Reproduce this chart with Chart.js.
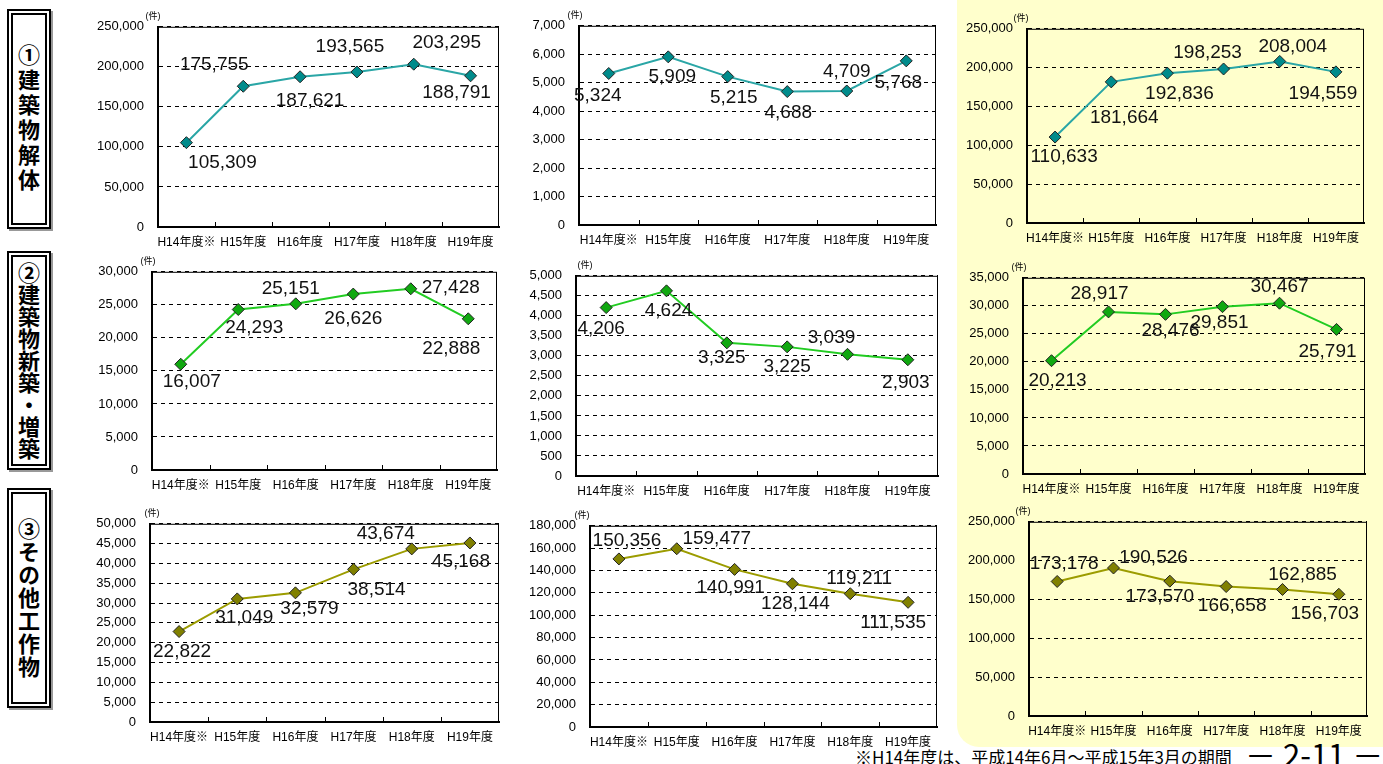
<!DOCTYPE html>
<html lang="ja">
<head>
<meta charset="utf-8">
<title>建築物解体・新築・その他工作物 件数推移</title>
<script src="https://cdn.jsdelivr.net/npm/chart.js@4.4.0/dist/chart.umd.min.js"></script>
<style>
  html, body { margin: 0; padding: 0; background: #fff; }
  body { width: 1383px; height: 764px; position: relative; overflow: hidden;
         font-family: "Liberation Sans", "Noto Sans CJK JP", sans-serif; }
  .panel { position: absolute; left: 957px; top: -30px; width: 460px; height: 777px;
           background: #ffffcc; border-radius: 22px; }
  .rowlabel { position: absolute; left: 7px; width: 32px; border: 6px double #000;
              box-shadow: 2px 2px 0 #999; display: flex; align-items: center; justify-content: center;
              background: #fff; }
  .rowlabel span { writing-mode: vertical-rl; text-orientation: upright; font-weight: bold;
                   font-size: 22px; line-height: 1; white-space: nowrap;
                   font-family: "Noto Sans CJK JP", sans-serif; color: #000; }
  .wrap { position: absolute; }
  .note { position: absolute; left: 855px; top: 744px; font-size: 17px; white-space: nowrap;
          font-family: "Noto Sans CJK JP", sans-serif; }
  .pageno { position: absolute; left: 1245px; top: 731px; font-size: 31px; white-space: nowrap;
            font-family: "Noto Sans CJK JP", sans-serif; }
</style>
</head>
<body>
<div class="panel"></div>
<div class="rowlabel" style="top:9px;height:208px;"><span style="letter-spacing:3px">①建築物解体</span></div>
<div class="rowlabel" style="top:251px;height:207px;"><span style="letter-spacing:0">②建築物新築・増築</span></div>
<div class="rowlabel" style="top:488px;height:208px;"><span style="letter-spacing:1px">③その他工作物</span></div>
<div class="note">※H14年度は、平成14年6月～平成15年3月の期間</div>
<div class="pageno">－ 2-11 －</div>

<script>
// categories
const years = ['H14年度※', 'H15年度', 'H16年度', 'H17年度', 'H18年度', 'H19年度'];

// ① 建築物解体
const demolitionA = [105309, 175755, 187621, 193565, 203295, 188791];
const demolitionB = [5324, 5909, 5215, 4688, 4709, 5768];
const demolitionTotal = [110633, 181664, 192836, 198253, 208004, 194559];

// ② 建築物新築・増築
const newBuildA = [16007, 24293, 25151, 26626, 27428, 22888];
const newBuildB = [4206, 4624, 3325, 3225, 3039, 2903];
const newBuildTotal = [20213, 28917, 28476, 29851, 30467, 25791];

// ③ その他工作物
const otherA = [22822, 31049, 32579, 38514, 43674, 45168];
const otherB = [150356, 159477, 140991, 128144, 119211, 111535];
const otherTotal = [173178, 190526, 173570, 166658, 162885, 156703];

// y axis ranges
const axisMax = [250000, 7000, 250000, 30000, 5000, 35000, 50000, 180000, 250000];
const axisStep = [50000, 1000, 50000, 5000, 500, 5000, 5000, 20000, 50000];

const FONT = '"Liberation Sans", "Noto Sans CJK JP", sans-serif';

const rowColors = [
  { line: '#2aa6a6', point: '#008b8b' },
  { line: '#22cc22', point: '#10a810' },
  { line: '#9c9c00', point: '#808000' }
];

// plot rect [left, top, right, bottom] and label offsets for each panel
const panels = [
  { values: demolitionA, row: 0, plot: [158, 25, 499, 227], unitDx: -5,
    offs: [[36, 20], [-29, -21], [10, 24], [-7, -25], [33, -21], [-14, 17]] },
  { values: demolitionB, row: 0, plot: [579, 24, 936, 225], unitDx: -4,
    offs: [[-11, 22], [4, 20], [6, 21], [1, 21], [0, -19], [-8, 22]] },
  { values: demolitionTotal, row: 0, plot: [1027, 27, 1364, 223], unitDx: -6,
    offs: [[9, 20], [13, 36], [12, 21], [-16, -16], [13, -15], [-13, 22]] },
  { values: newBuildA, row: 1, plot: [152, 270, 497, 470], unitDx: -4,
    offs: [[11, 18], [16, 18], [-5, -15], [0, 25], [40, -1], [-17, 30]] },
  { values: newBuildB, row: 1, plot: [576, 274, 938, 476], unitDx: 9,
    offs: [[-5, 21], [2, 20], [-5, 15], [0, 20], [-16, -17], [-2, 23]] },
  { values: newBuildTotal, row: 1, plot: [1023, 276, 1365, 474], unitDx: -4,
    offs: [[6, 20], [-9, -18], [5, 16], [-3, 16], [0, -16], [-9, 22]] },
  { values: otherA, row: 2, plot: [150, 522, 499, 722], unitDx: 2,
    offs: [[3, 20], [7, 19], [14, 16], [23, 20], [-26, -15], [-9, 19]] },
  { values: otherB, row: 2, plot: [590, 524, 937, 727], unitDx: -8,
    offs: [[8, -18], [40, -10], [-4, 18], [3, 20], [9, -15], [-15, 20]] },
  { values: otherTotal, row: 2, plot: [1029, 520, 1367, 716], unitDx: -6,
    offs: [[7, -18], [40, -10], [-10, 16], [6, 19], [20, -15], [-14, 19]] }
];

// frame, inward category ticks, unit mark and value labels
const framePlugin = {
  id: 'frame',
  beforeDatasetsDraw(chart) {
    const { ctx, chartArea: a, scales: { x } } = chart;
    ctx.save();
    ctx.strokeStyle = '#000';
    ctx.lineWidth = 1;
    ctx.strokeRect(a.left + 0.5, a.top + 0.5, a.width - 1, a.height - 1);
    const n = chart.data.labels.length;
    ctx.beginPath();
    for (let i = 1; i < n; i++) {
      const px = Math.round((x.getPixelForTick(i - 1) + x.getPixelForTick(i)) / 2) + 0.5;
      ctx.moveTo(px, a.bottom);
      ctx.lineTo(px, a.bottom - 5);
    }
    ctx.stroke();
    ctx.restore();
  },
  afterDatasetsDraw(chart, args, opts) {
    const { ctx, chartArea: a } = chart;
    const meta = chart.getDatasetMeta(0);
    const data = chart.data.datasets[0].data;
    ctx.save();
    ctx.fillStyle = '#000';
    ctx.textAlign = 'center';
    ctx.textBaseline = 'middle';
    ctx.font = '9px ' + FONT;
    ctx.fillText('(件)', a.left + opts.unitDx, a.top - 10);
    ctx.font = '19px ' + FONT;
    ctx.fillStyle = '#111';
    meta.data.forEach((pt, i) => {
      const [dx, dy] = opts.offsets[i];
      ctx.fillText(data[i].toLocaleString('en-US'), pt.x + dx, pt.y + dy);
    });
    ctx.restore();
  }
};

function makeChart(p, idx) {
  const [l, t, r, b] = p.plot;
  const padL = 80, padT = 20, padR = 10, padB = 26;
  const W = r - l + padL + padR;
  const H = b - t + padT + padB;
  const wrap = document.createElement('div');
  wrap.className = 'wrap';
  wrap.style.left = (l - padL) + 'px';
  wrap.style.top = (t - padT) + 'px';
  const canvas = document.createElement('canvas');
  canvas.width = W;
  canvas.height = H;
  wrap.appendChild(canvas);
  document.body.appendChild(wrap);

  const c = rowColors[p.row];
  new Chart(canvas, {
    type: 'line',
    data: {
      labels: years,
      datasets: [{
        data: p.values,
        borderColor: c.line,
        borderWidth: 2,
        pointStyle: 'rectRot',
        pointRadius: 6,
        pointBackgroundColor: c.point,
        pointBorderColor: '#222',
        pointBorderWidth: 1,
        tension: 0
      }]
    },
    options: {
      responsive: false,
      animation: false,
      devicePixelRatio: 1,
      layout: { padding: { left: 0, top: padT, right: padR, bottom: 0 } },
      plugins: {
        legend: { display: false },
        tooltip: { enabled: false },
        frame: { offsets: p.offs, unitDx: p.unitDx }
      },
      scales: {
        x: {
          offset: true,
          grid: { display: false, drawTicks: false },
          border: { display: true, color: '#000', width: 2 },
          ticks: { color: '#000', font: { size: 12, family: FONT }, padding: 8,
                   maxRotation: 0, autoSkip: false },
          afterFit: s => { s.height = padB; }
        },
        y: {
          min: 0,
          max: axisMax[idx],
          grid: { color: '#000', lineWidth: 1, drawTicks: false },
          border: { display: true, color: '#000', width: 2, dash: [4, 4] },
          ticks: { stepSize: axisStep[idx], color: '#000', font: { size: 13, family: FONT },
                   padding: 14, callback: v => v.toLocaleString('en-US') },
          afterFit: s => { s.width = padL; }
        }
      }
    },
    plugins: [framePlugin]
  });
}

panels.forEach(makeChart);
</script>
</body>
</html>
